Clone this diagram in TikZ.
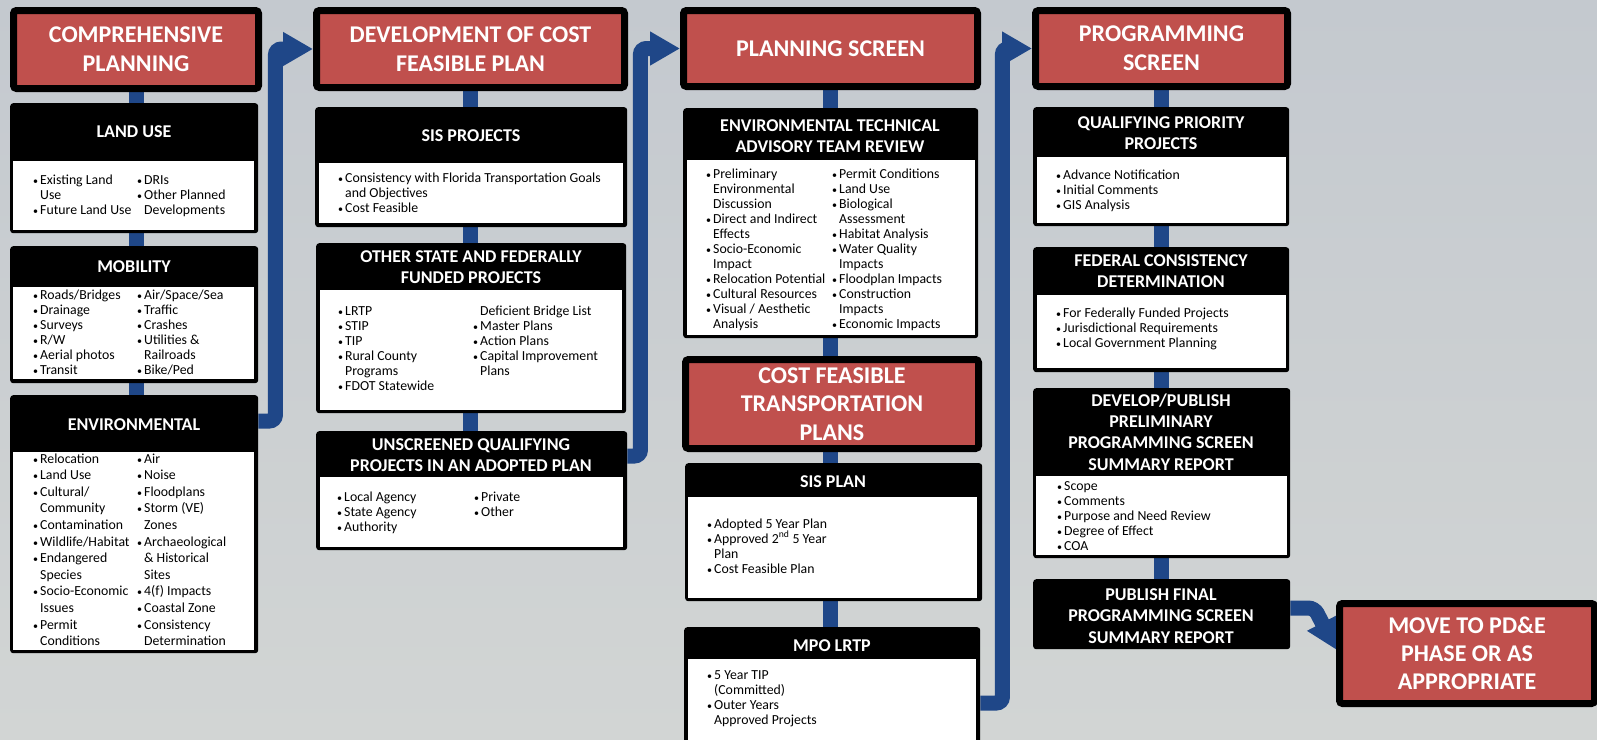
\documentclass[tikz,border=0pt]{standalone}
\usepackage{fontspec}
\setmainfont{Carlito}
\usepackage{xcolor}
\usetikzlibrary{arrows.meta,positioning,calc}
\definecolor{pdred}{HTML}{C0504D}
\definecolor{flowblue}{HTML}{1F4788}
\definecolor{backtop}{HTML}{C4C9CF}
\definecolor{backbot}{HTML}{D2D5D4}
\pgfdeclarelayer{backdrop}
\pgfdeclarelayer{links}
\pgfsetlayers{backdrop,links,main}
\newcommand{\bitem}[1]{\makebox[7pt][l]{{\fontsize{10}{10}\selectfont\textbullet}}#1}
\newcommand{\bcont}[1]{\hspace*{7pt}#1}
\tikzset{
  titlebox/.style={fill=pdred, draw=black, line width=7pt, rounded corners=3pt,
    text=white, font=\bfseries\fontsize{24}{29}\selectfont, align=center, inner sep=0pt},
  card/.style={fill=black, rounded corners=3pt, inner sep=0pt, anchor=north west},
  cardbody/.style={fill=white, inner sep=0pt, anchor=north west},
  cardhead/.style={text=white, font=\bfseries\fontsize{18}{21}\selectfont,
    align=center, inner sep=0pt, anchor=base},
  bullets/.style={text=black, font=\fontsize{13.8}{15}\selectfont,
    align=left, inner sep=0pt, anchor=base west},
  flow/.style={draw=flowblue, line width=15pt, rounded corners=6pt},
  flowarrow/.style={flow, -{Triangle[length=30pt,width=32pt]}}
}

\begin{document}
\begin{tikzpicture}[x=1pt, y=-1pt]
  \useasboundingbox (0,0) rectangle (1597,739);
  \begin{pgfonlayer}{backdrop}
    \fill[top color=backtop, bottom color=backbot] (0,0) rectangle (1597,739);
  \end{pgfonlayer}

  % column 1 (text nodes sit on the baseline of their last line)
  \node[titlebox, minimum width=245pt, minimum height=78pt] (cp) at (136,49.5) {COMPREHENSIVE\\PLANNING};

  \node[card, minimum width=248pt, minimum height=130pt] (landuse) at (10,103) {};
  \node[cardbody, minimum width=241pt, minimum height=69pt] (landuse-b) at (13,161) {};
  \node[cardhead] (landuse-t) at (134,137) {LAND USE};
  \node[bullets] (landuse-l) at (33,214) {\bitem{Existing Land}\\\bcont{Use}\\\bitem{Future Land Use}};
  \node[bullets] (landuse-r) at (137,214) {\bitem{DRIs}\\\bitem{Other Planned}\\\bcont{Developments}};

  \node[card, minimum width=248pt, minimum height=137pt] (mobility) at (10,246) {};
  \node[cardbody, minimum width=241pt, minimum height=92pt] (mobility-b) at (13,287) {};
  \node[cardhead] (mobility-t) at (134,272) {MOBILITY};
  \node[bullets] (mobility-l) at (33,374) {\bitem{Roads/Bridges}\\\bitem{Drainage}\\\bitem{Surveys}\\\bitem{R/W}\\\bitem{Aerial photos}\\\bitem{Transit}};
  \node[bullets] (mobility-r) at (137,374) {\bitem{Air/Space/Sea}\\\bitem{Traffic}\\\bitem{Crashes}\\\bitem{Utilities \&}\\\bcont{Railroads}\\\bitem{Bike/Ped}};

  \node[card, minimum width=248pt, minimum height=258pt] (env) at (10,395) {};
  \node[cardbody, minimum width=241pt, minimum height=198pt] (env-b) at (13,452) {};
  \node[cardhead] (env-t) at (134,430) {ENVIRONMENTAL};
  \node[bullets, font=\fontsize{13.8}{16.6}\selectfont] (env-l) at (33,645.6) {\bitem{Relocation}\\\bitem{Land Use}\\\bitem{Cultural/}\\\bcont{Community}\\\bitem{Contamination}\\\bitem{Wildlife/Habitat}\\\bitem{Endangered}\\\bcont{Species}\\\bitem{Socio-Economic}\\\bcont{Issues}\\\bitem{Permit}\\\bcont{Conditions}};
  \node[bullets, font=\fontsize{13.8}{16.6}\selectfont] (env-r) at (137,645.6) {\bitem{Air}\\\bitem{Noise}\\\bitem{Floodplans}\\\bitem{Storm (VE)}\\\bcont{Zones}\\\bitem{Archaeological}\\\bcont{\& Historical}\\\bcont{Sites}\\\bitem{4(f) Impacts}\\\bitem{Coastal Zone}\\\bitem{Consistency}\\\bcont{Determination}};

  % column 2
  \node[titlebox, minimum width=308pt, minimum height=77pt] (dev) at (470.5,49) {DEVELOPMENT OF COST\\FEASIBLE PLAN};

  \node[card, minimum width=312pt, minimum height=120pt] (sisproj) at (315,107) {};
  \node[cardbody, minimum width=304pt, minimum height=60pt] (sisproj-b) at (319,163) {};
  \node[cardhead] (sisproj-t) at (471,141) {SIS PROJECTS};
  \node[bullets] (sisproj-l) at (338,212) {\bitem{Consistency with Florida Transportation Goals}\\\bcont{and Objectives}\\\bitem{Cost Feasible}};

  \node[card, minimum width=310pt, minimum height=170pt] (otherst) at (316,243) {};
  \node[cardbody, minimum width=302pt, minimum height=120pt] (otherst-b) at (320,290) {};
  \node[cardhead] (otherst-t) at (471,283) {OTHER STATE AND FEDERALLY\\FUNDED PROJECTS};
  \node[bullets] (otherst-l) at (338,390) {\bitem{LRTP}\\\bitem{STIP}\\\bitem{TIP}\\\bitem{Rural County}\\\bcont{Programs}\\\bitem{FDOT Statewide}};
  \node[bullets] (otherst-r) at (473,375) {\bcont{Deficient Bridge List}\\\bitem{Master Plans}\\\bitem{Action Plans}\\\bitem{Capital Improvement}\\\bcont{Plans}};

  \node[card, minimum width=311pt, minimum height=119pt] (unscr) at (316,431) {};
  \node[cardbody, minimum width=303pt, minimum height=70pt] (unscr-b) at (320,477) {};
  \node[cardhead] (unscr-t) at (471,471) {UNSCREENED QUALIFYING\\PROJECTS IN AN ADOPTED PLAN};
  \node[bullets] (unscr-l) at (337,531) {\bitem{Local Agency}\\\bitem{State Agency}\\\bitem{Authority}};
  \node[bullets] (unscr-r) at (474,516) {\bitem{Private}\\\bitem{Other}};

  % column 3
  \node[titlebox, minimum width=294pt, minimum height=76pt] (ps) at (830.5,48.5) {PLANNING SCREEN};

  \node[card, minimum width=295pt, minimum height=230pt] (etat) at (683,108) {};
  \node[cardbody, minimum width=288pt, minimum height=175pt] (etat-b) at (687,160) {};
  \node[cardhead] (etat-t) at (830,152) {ENVIRONMENTAL TECHNICAL\\ADVISORY TEAM REVIEW};
  \node[bullets] (etat-l) at (706,328) {\bitem{Preliminary}\\\bcont{Environmental}\\\bcont{Discussion}\\\bitem{Direct and Indirect}\\\bcont{Effects}\\\bitem{Socio-Economic}\\\bcont{Impact}\\\bitem{Relocation Potential}\\\bitem{Cultural Resources}\\\bitem{Visual / Aesthetic}\\\bcont{Analysis}};
  \node[bullets] (etat-r) at (832,328) {\bitem{Permit Conditions}\\\bitem{Land Use}\\\bitem{Biological}\\\bcont{Assessment}\\\bitem{Habitat Analysis}\\\bitem{Water Quality}\\\bcont{Impacts}\\\bitem{Floodplan Impacts}\\\bitem{Construction}\\\bcont{Impacts}\\\bitem{Economic Impacts}};

  \node[titlebox, font=\bfseries\fontsize{24}{28.5}\selectfont, minimum width=293pt, minimum height=89pt] (cft) at (832,404) {COST FEASIBLE\\TRANSPORTATION\\PLANS};

  \node[card, minimum width=297pt, minimum height=138pt] (sisplan) at (685,463) {};
  \node[cardbody, minimum width=289pt, minimum height=101pt] (sisplan-b) at (688,497) {};
  \node[cardhead] (sisplan-t) at (833,487) {SIS PLAN};
  \node[bullets] (sisplan-l) at (707,573) {\bitem{Adopted 5 Year Plan}\\\bitem{Approved 2\textsuperscript{nd} 5 Year}\\\bcont{Plan}\\\bitem{Cost Feasible Plan}};

  \node[card, minimum width=296pt, minimum height=130pt] (mpo) at (684,627) {};
  \node[cardbody, minimum width=288pt, minimum height=95pt] (mpo-b) at (688,659) {};
  \node[cardhead] (mpo-t) at (832,651) {MPO LRTP};
  \node[bullets] (mpo-l) at (707,724) {\bitem{5 Year TIP}\\\bcont{(Committed)}\\\bitem{Outer Years}\\\bcont{Approved Projects}};

  % column 4
  \node[titlebox, minimum width=252pt, minimum height=76pt] (prog) at (1161.5,48.5) {PROGRAMMING\\SCREEN};

  \node[card, minimum width=256pt, minimum height=119pt] (qpp) at (1033,107) {};
  \node[cardbody, minimum width=249pt, minimum height=66pt] (qpp-b) at (1037,157) {};
  \node[cardhead] (qpp-t) at (1161,149) {QUALIFYING PRIORITY\\PROJECTS};
  \node[bullets] (qpp-l) at (1056,209) {\bitem{Advance Notification}\\\bitem{Initial Comments}\\\bitem{GIS Analysis}};

  \node[card, minimum width=256pt, minimum height=125pt] (fcd) at (1033,247) {};
  \node[cardbody, minimum width=249pt, minimum height=73pt] (fcd-b) at (1037,295) {};
  \node[cardhead] (fcd-t) at (1161,287) {FEDERAL CONSISTENCY\\DETERMINATION};
  \node[bullets] (fcd-l) at (1056,347) {\bitem{For Federally Funded Projects}\\\bitem{Jurisdictional Requirements}\\\bitem{Local Government Planning}};

  \node[card, minimum width=257pt, minimum height=170pt] (dpp) at (1033,388) {};
  \node[cardbody, minimum width=251pt, minimum height=79pt] (dpp-b) at (1036,476) {};
  \node[cardhead, font=\bfseries\fontsize{18}{21.3}\selectfont] (dpp-t) at (1161,470) {DEVELOP/PUBLISH\\PRELIMINARY\\PROGRAMMING SCREEN\\SUMMARY REPORT};
  \node[bullets] (dpp-l) at (1057,550) {\bitem{Scope}\\\bitem{Comments}\\\bitem{Purpose and Need Review}\\\bitem{Degree of Effect}\\\bitem{COA}};

  \node[card, minimum width=257pt, minimum height=70pt] (pubfin) at (1033,579) {};
  \node[cardhead, font=\bfseries\fontsize{18}{21.5}\selectfont] (pubfin-t) at (1161,643) {PUBLISH FINAL\\PROGRAMMING SCREEN\\SUMMARY REPORT};

  \node[titlebox, font=\bfseries\fontsize{24}{28}\selectfont, minimum width=255pt, minimum height=100pt] (move) at (1467,653.5) {MOVE TO PD\&E\\PHASE OR AS\\APPROPRIATE};

  % flow bars behind the cards
  \begin{pgfonlayer}{links}
    \draw[flow] (cp.center) -- (cp.center |- env.north);
    \draw[flow] (dev.center) -- (dev.center |- unscr.north);
    \draw[flow] (ps.center) -- (ps.center |- mpo.north);
    \draw[flow] (prog.center) -- (prog.center |- pubfin.north);
    \draw[flowarrow] ([yshift=-26pt]env.north east) -- ++(17,0) |- (dev.west);
    \draw[flowarrow] ([yshift=-25pt]unscr.north east) -- ++(13,0) |- (ps.west);
    \draw[flowarrow] ([yshift=-76pt]mpo.north east) -- ++(22,0) |- (prog.west);
    \draw[flowarrow] ([yshift=-29pt]pubfin.north east) -- ++(24,0) -- ([yshift=4pt]move.west);
  \end{pgfonlayer}
\end{tikzpicture}
\end{document}
